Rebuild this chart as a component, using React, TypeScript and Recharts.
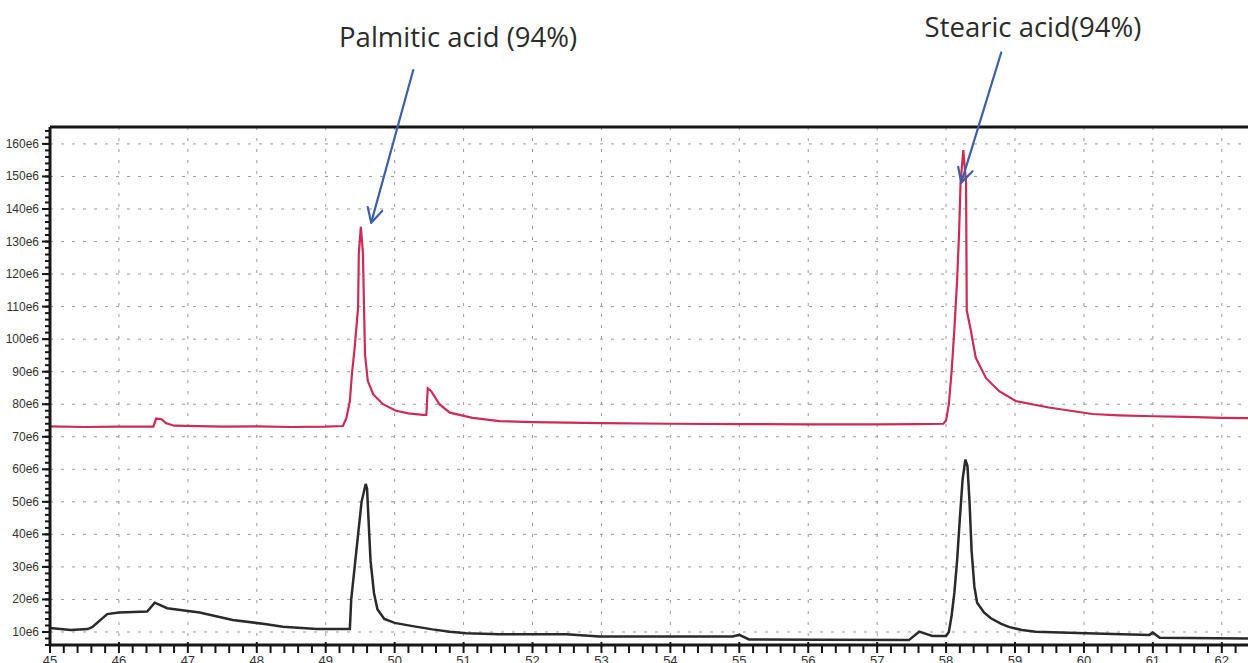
import React from 'react';
import { LineChart, Line, XAxis, YAxis, CartesianGrid, ReferenceLine, ReferenceDot } from 'recharts';

// retention time (min) and abundance (x1e6)
const redTime = [
  45.0, 45.5, 46.0, 46.5, 46.54, 46.62, 46.68, 46.8, 47.5, 48.0, 48.5, 49.0, 49.25, 49.3, 49.35,
  49.38, 49.42, 49.47, 49.48, 49.51, 49.54, 49.57, 49.61, 49.69, 49.83, 50.02, 50.2, 50.41, 50.46,
  50.48, 50.53, 50.65, 50.8, 51.13, 51.52, 52.0, 53.0, 54.0, 55.0, 56.0, 57.0, 57.6, 57.96, 58.0,
  58.04, 58.08, 58.12, 58.16, 58.19, 58.21, 58.25, 58.29, 58.3, 58.36, 58.43, 58.58, 58.77, 59.01,
  59.49, 60.12, 60.5, 61.0, 61.5, 62.0, 62.38,
];
const redValue = [
  73.2, 73.0, 73.1, 73.1, 75.6, 75.4, 74.2, 73.4, 73.1, 73.2, 73.0, 73.1, 73.3, 75.8, 80.9,
  89.2, 97.4, 109.8, 126.3, 134.5, 126.3, 95.4, 87.2, 83.0, 80.0, 78.0, 77.2, 76.7, 76.7,
  84.9, 84.0, 80.0, 77.4, 75.8, 74.8, 74.5, 74.2, 74.0, 73.9, 73.8, 73.8, 73.9, 74.0, 75.0,
  80.0, 90.0, 103.0, 118.0, 133.5, 148.0, 158.1, 148.0, 108.8, 102.6, 94.3, 88.0, 84.0, 81.0,
  79.0, 77.0, 76.6, 76.3, 76.1, 75.8, 75.7,
];

const blackTime = [
  45.0, 45.3, 45.55, 45.62, 45.83, 46.0, 46.41, 46.52, 46.7, 47.17, 47.65, 48.14, 48.38, 48.87,
  49.35, 49.37, 49.42, 49.47, 49.52, 49.58, 49.6, 49.62, 49.65, 49.7, 49.75, 49.85, 50.0, 50.26,
  50.55, 50.8, 51.04, 51.52, 52.49, 52.97, 54.9, 55.0, 55.14, 56.16, 57.46, 57.61, 57.8, 58.0,
  58.04, 58.08, 58.12, 58.16, 58.2, 58.24, 58.28, 58.31, 58.34, 58.37, 58.41, 58.45, 58.55,
  58.65, 58.8, 58.92, 59.1, 59.3, 60.03, 60.95, 61.0, 61.1, 62.38,
];
const blackValue = [
  11.2, 10.6, 10.9, 11.6, 15.5, 16.0, 16.3, 19.0, 17.3, 16.0, 13.7, 12.4, 11.6, 10.9,
  10.9, 20.0, 30.0, 40.0, 50.0, 55.5, 54.0, 45.0, 32.0, 22.0, 17.0, 14.0, 12.8, 11.8,
  10.8, 10.1, 9.6, 9.3, 9.3, 8.6, 8.6, 9.1, 7.7, 7.6, 7.5, 10.1, 8.8, 8.8,
  10.0, 15.0, 22.0, 32.0, 45.0, 57.0, 63.0, 61.0, 50.0, 35.0, 24.0, 19.0, 16.0,
  14.2, 12.5, 11.5, 10.6, 10.1, 9.6, 9.1, 9.8, 8.2, 8.0,
];

const xMajorTicks = [45, 46, 47, 48, 49, 50, 51, 52, 53, 54, 55, 56, 57, 58, 59, 60, 61, 62];
const yMajorTicks = [10, 20, 30, 40, 50, 60, 70, 80, 90, 100, 110, 120, 130, 140, 150, 160];

const annotations = [
  { label: 'Palmitic acid (94%)', textT: 50.92, textV: 189.9, fromT: 50.27, fromV: 182.7, toT: 49.66, toV: 135.8 },
  { label: 'Stearic acid(94%)', textT: 59.26, textV: 193.0, fromT: 58.8, fromV: 188.1, toT: 58.22, toV: 148.1 },
];

const X_DOMAIN: [number, number] = [45, 62.38];
const Y_DOMAIN: [number, number] = [6, 165.2];

const redData = redTime.map((t, i) => ({ t, v: redValue[i] }));
const blackData = blackTime.map((t, i) => ({ t, v: blackValue[i] }));

// minor ticks: every 0.2 min and every 2e6
const xTicks: number[] = [];
for (let i = 0; i <= 86; i++) xTicks.push((225 + i) / 5);
const yTicks: number[] = [];
for (let i = 3; i <= 82; i++) yTicks.push(i * 2);

const AXIS = '#161616';
const ARROW = '#3e5fa6';

const YTick = (props: any) => {
  const { x, y, payload } = props;
  const v = payload.value;
  if (v % 10 !== 0) return <g />;
  return (
    <g>
      <line x1={x + 3} y1={y} x2={x + 11} y2={y} stroke={AXIS} strokeWidth={2} />
      <text x={x} y={y} dy={4} textAnchor="end" fontSize={12} fill="#333" fontFamily="Liberation Sans, Arial, sans-serif">
        {`${v}e6`}
      </text>
    </g>
  );
};

const XTick = (props: any) => {
  const { x, y, payload } = props;
  const v = payload.value;
  if (!Number.isInteger(v)) return <g />;
  return (
    <g>
      <line x1={x} y1={y - 14} x2={x} y2={y - 9} stroke={AXIS} strokeWidth={2} />
      <text x={x} y={y} dy="0.71em" textAnchor="middle" fontSize={13} fill="#333" fontFamily="Liberation Sans, Arial, sans-serif">
        {v}
      </text>
    </g>
  );
};

const Arrow = (props: any) => {
  const { x1, y1, x2, y2 } = props;
  const ang = Math.atan2(y2 - y1, x2 - x1);
  const len = 16;
  const spread = (28 * Math.PI) / 180;
  const ax = x2 - len * Math.cos(ang - spread);
  const ay = y2 - len * Math.sin(ang - spread);
  const bx = x2 - len * Math.cos(ang + spread);
  const by = y2 - len * Math.sin(ang + spread);
  return (
    <g>
      <line x1={x1} y1={y1} x2={x2} y2={y2} stroke={ARROW} strokeWidth={2.2} strokeLinecap="round" />
      <path d={`M${ax},${ay} L${x2},${y2} L${bx},${by}`} fill="none" stroke={ARROW} strokeWidth={2.2} strokeLinecap="round" strokeLinejoin="round" />
    </g>
  );
};

export default function App() {
  return (
    <div style={{ position: 'absolute', left: 0, top: 0, width: 1248, height: 663, overflow: 'hidden', background: '#fff' }}>
      <LineChart width={1248} height={663} margin={{ top: 127, right: 0, bottom: 0, left: 0 }}>
        <CartesianGrid
          stroke="#9a9a9a"
          strokeDasharray="3 8"
          horizontalValues={yMajorTicks}
          verticalValues={xMajorTicks}
        />
        <XAxis
          dataKey="t"
          type="number"
          domain={X_DOMAIN}
          allowDataOverflow
          ticks={xTicks}
          interval={0}
          height={18}
          tickSize={8}
          tickMargin={3}
          tick={<XTick />}
          axisLine={{ stroke: AXIS, strokeWidth: 3 }}
          tickLine={{ stroke: AXIS, strokeWidth: 2 }}
        />
        <YAxis
          type="number"
          domain={Y_DOMAIN}
          allowDataOverflow
          ticks={yTicks}
          interval={0}
          width={50}
          tickSize={5}
          tickMargin={6}
          tick={<YTick />}
          axisLine={{ stroke: AXIS, strokeWidth: 3 }}
          tickLine={{ stroke: AXIS, strokeWidth: 2 }}
        />
        <ReferenceLine y={Y_DOMAIN[1]} stroke={AXIS} strokeWidth={3} />
        <Line
          data={redData}
          dataKey="v"
          type="linear"
          stroke="#cc2b55"
          strokeWidth={2.2}
          dot={false}
          isAnimationActive={false}
        />
        <Line
          data={blackData}
          dataKey="v"
          type="linear"
          stroke="#2a2a2a"
          strokeWidth={2.5}
          dot={false}
          isAnimationActive={false}
        />
        {annotations.map((a) => (
          <ReferenceLine
            key={`arrow-${a.label}`}
            segment={[{ x: a.fromT, y: a.fromV }, { x: a.toT, y: a.toV }]}
            ifOverflow="visible"
            shape={Arrow}
          />
        ))}
        {annotations.map((a) => (
          <ReferenceDot
            key={`text-${a.label}`}
            x={a.textT}
            y={a.textV}
            ifOverflow="visible"
            shape={(p: any) => (
              <text x={p.cx} y={p.cy} textAnchor="middle" fontSize={27.5} fill="#2b2b2b" fontFamily="'Open Sans', Lato, sans-serif">
                {a.label}
              </text>
            )}
          />
        ))}
      </LineChart>
    </div>
  );
}
